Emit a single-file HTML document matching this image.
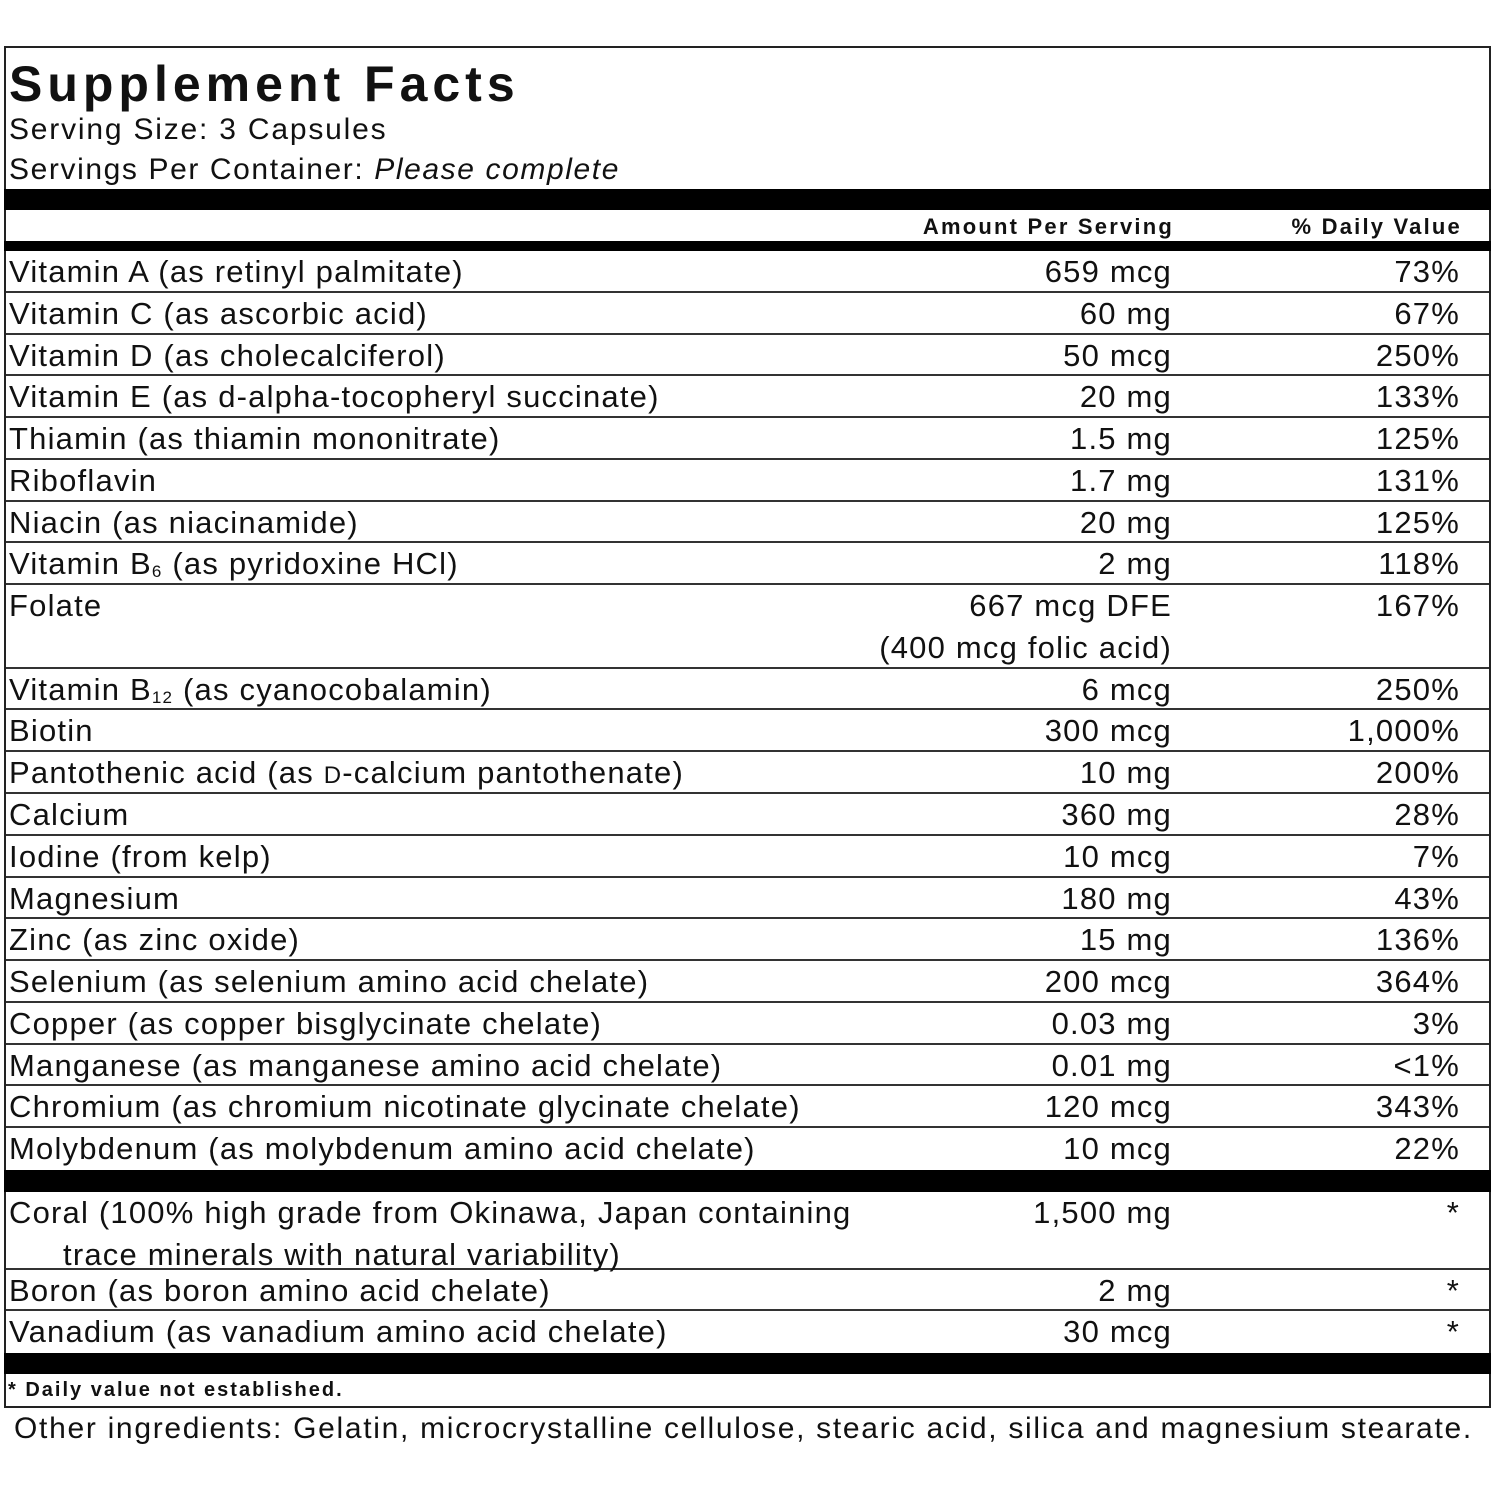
<!DOCTYPE html>
<html><head><style>
body{margin:0;background:#fff;width:1494px;height:1494px;position:relative;overflow:hidden;font-family:"Liberation Sans",Arial,sans-serif;color:#111}
.box{position:absolute;left:4px;top:46px;width:1483px;height:1358px;border:2px solid #222}
.bar{position:absolute;left:4px;width:1487px;background:#000}
.row{position:absolute;left:6px;width:1483px;border-bottom:2px solid #333;font-size:31px;line-height:42px;letter-spacing:1.2px}
.n{position:absolute;left:3px;top:0;white-space:nowrap}
.a{position:absolute;right:317px;top:0;text-align:right;white-space:nowrap}
.d{position:absolute;right:29px;top:0;text-align:right}
sub{font-size:17px;vertical-align:-3px;line-height:0}
</style></head><body>
<div class="box"></div>
<div style="position:absolute;left:9px;top:56px;font-size:50px;font-weight:bold;letter-spacing:5px;line-height:56px">Supplement Facts</div>
<div style="position:absolute;left:9px;top:112px;font-size:30px;line-height:36px;letter-spacing:1.8px">Serving Size: 3 Capsules</div>
<div style="position:absolute;left:9px;top:152px;font-size:30px;line-height:36px;letter-spacing:1.6px">Servings Per Container: <i>Please complete</i></div>
<div class="bar" style="top:189px;height:21px"></div>
<div style="position:absolute;left:0;top:212px;width:1174px;text-align:right;font-size:22px;font-weight:bold;line-height:30px;letter-spacing:2.2px">Amount Per Serving</div>
<div style="position:absolute;left:0;top:212px;width:1462px;text-align:right;font-size:22px;font-weight:bold;line-height:30px;letter-spacing:2.2px">% Daily Value</div>
<div class="bar" style="top:241px;height:10px"></div>
<div id="rows"></div>
<div class="bar" style="top:1170px;height:22px"></div>
<div class="bar" style="top:1353px;height:21px"></div>
<div style="position:absolute;left:8px;top:1376px;font-size:20px;font-weight:bold;line-height:28px;letter-spacing:2px">* Daily value not established.</div>
<div style="position:absolute;left:14px;top:1410px;font-size:30px;line-height:38px;letter-spacing:1.7px">Other ingredients: Gelatin, microcrystalline cellulose, stearic acid, silica and magnesium stearate.</div>
<script>
var R=[["Vitamin A (as retinyl palmitate)","659 mcg","73%"],["Vitamin C (as ascorbic acid)","60 mg","67%"],["Vitamin D (as cholecalciferol)","50 mcg","250%"],["Vitamin E (as d-alpha-tocopheryl succinate)","20 mg","133%"],["Thiamin (as thiamin mononitrate)","1.5 mg","125%"],["Riboflavin","1.7 mg","131%"],["Niacin (as niacinamide)","20 mg","125%"],["Vitamin B<sub>6</sub> (as pyridoxine HCl)","2 mg","118%"],["Folate","667 mcg DFE<br>(400 mcg folic acid)","167%",2],["Vitamin B<sub>12</sub> (as cyanocobalamin)","6 mcg","250%"],["Biotin","300 mcg","1,000%"],["Pantothenic acid (as <span style='font-size:24px'>D</span>-calcium pantothenate)","10 mg","200%"],["Calcium","360 mg","28%"],["Iodine (from kelp)","10 mcg","7%"],["Magnesium","180 mg","43%"],["Zinc (as zinc oxide)","15 mg","136%"],["Selenium (as selenium amino acid chelate)","200 mcg","364%"],["Copper (as copper bisglycinate chelate)","0.03 mg","3%"],["Manganese (as manganese amino acid chelate)","0.01 mg","&lt;1%"],["Chromium (as chromium nicotinate glycinate chelate)","120 mcg","343%"],["Molybdenum (as molybdenum amino acid chelate)","10 mcg","22%",1,1]];
var h="",y=251,u=41.77;
R.forEach(function(r){var n=r[3]||1;var hh=u*n;h+='<div class="row" style="top:'+y+'px;height:'+(hh-2)+'px;'+(r[4]?'border:none':'')+'"><span class="n">'+r[0]+'</span><span class="a">'+r[1]+'</span><span class="d">'+r[2]+'</span></div>';y+=hh;});
var S=[["Coral (100% high grade from Okinawa, Japan containing<br><span style='padding-left:54px'></span>trace minerals with natural variability)","1,500 mg","*",1192,78],["Boron (as boron amino acid chelate)","2 mg","*",1270,41],["Vanadium (as vanadium amino acid chelate)","30 mcg","*",1311,42,1]];
S.forEach(function(r){h+='<div class="row" style="top:'+r[3]+'px;height:'+(r[4]-2)+'px;'+(r[5]?'border:none':'')+'"><span class="n">'+r[0]+'</span><span class="a">'+r[1]+'</span><span class="d">'+r[2]+'</span></div>';});
document.getElementById("rows").innerHTML=h;
</script>
</body></html>
